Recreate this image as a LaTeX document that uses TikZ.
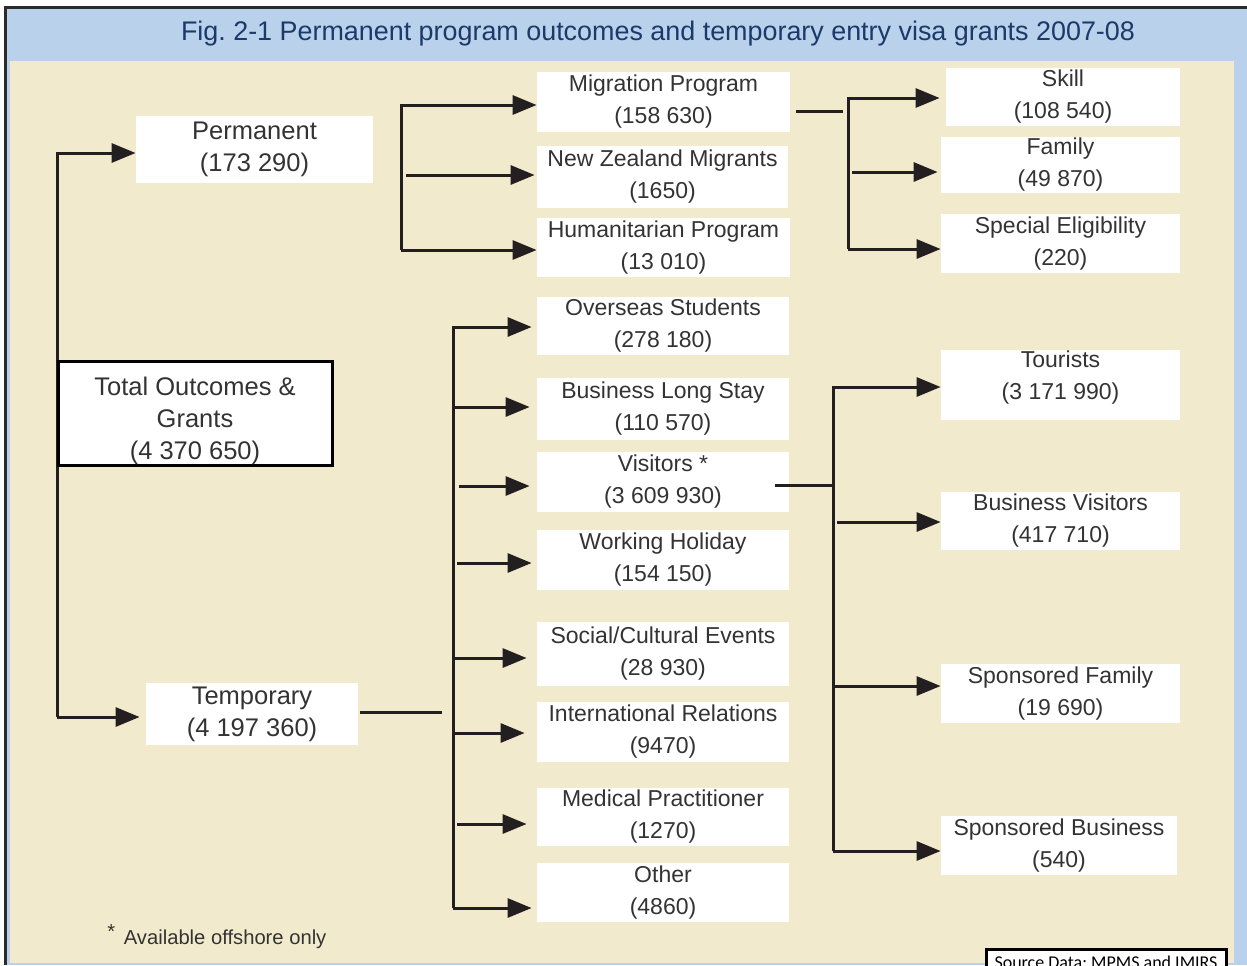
\documentclass[tikz,border=0pt]{standalone}
\usepackage{fontspec}
\setmainfont{Liberation Sans}
\newfontfamily\srcfont{Carlito}
\usetikzlibrary{arrows.meta}
\definecolor{bgblue}{HTML}{B9D1EA}
\definecolor{beige}{HTML}{F2EACD}
\definecolor{titleblue}{HTML}{1B3A6B}
\definecolor{framecol}{HTML}{2B2B2B}
\definecolor{txt}{HTML}{333333}
\definecolor{ink}{HTML}{231F20}
\frenchspacing
\begin{document}
\begin{tikzpicture}[x=0.5pt,y=-0.5pt,
  sz/.style 2 args={minimum width={#1*0.5pt}, minimum height={#2*0.5pt}},
  box/.style={fill=white, align=center, text=txt, inner sep=0pt, font=\fontsize{11.5}{16}\selectfont},
  bigbox/.style={box, font=\fontsize{12.75}{16}\selectfont},
  ln/.style={draw=ink, line width=1.5pt},
  arr/.style={ln, -{Triangle[length=12pt,width=9.5pt]}},
]
\useasboundingbox (0,0) rectangle (1247,965);
\clip (0,0) rectangle (1247,965);
% background
\fill[white] (0,0) rectangle (1247,965);
\fill[bgblue] (5,7) rectangle (1247,965);
\fill[beige] (10,61) rectangle (1234,963);
\draw[framecol, line width=1.5pt] (5.5,965) -- (5.5,7.5) -- (1247,7.5);

\node[text=titleblue, font=\fontsize{13.45}{16}\selectfont, inner sep=0pt] (title) at (658,34)
  {Fig. 2-1 Permanent program outcomes and temporary entry visa grants 2007-08};

% left column
\node[bigbox, sz={237}{67}] (perm) at (254.5,149.5) {Permanent\\(173 290)};
\node[bigbox, sz={212}{62}] (temp) at (252,714) {Temporary\\(4 197 360)};

% middle column
\node[box, sz={253}{60}] (mig) at (663.5,102) {Migration Program\\(158 630)};
\node[box, sz={251}{62}] (nz) at (662.5,177) {New Zealand Migrants\\(1650)};
\node[box, sz={253}{59}] (hum) at (663.5,247.5) {Humanitarian Program\\(13 010)};
\node[box, sz={252}{58}] (ovs) at (663,326) {Overseas Students\\(278 180)};
\node[box, sz={252}{62}] (bls) at (663,409) {Business Long Stay\\(110 570)};
\node[box, sz={252}{60}] (vis) at (663,482) {Visitors *\\(3 609 930)};
\node[box, sz={252}{60}] (wh) at (663,560) {Working Holiday\\(154 150)};
\node[box, sz={252}{64}] (soc) at (663,654) {Social/Cultural Events\\(28 930)};
\node[box, sz={252}{60}] (intl) at (663,732) {International Relations\\(9470)};
\node[box, sz={252}{58}] (med) at (663,817) {Medical Practitioner\\(1270)};
\node[box, sz={252}{59}] (oth) at (663,892.5) {Other\\(4860)};

% right column
\node[box, sz={234}{58}] (skill) at (1063,97) {Skill\\(108 540)};
\node[box, sz={239}{56}] (fam) at (1060.5,165) {Family\\(49 870)};
\node[box, sz={239}{59}] (spe) at (1060.5,243.5) {Special Eligibility\\(220)};
\node[box, sz={239}{70}] (tour) at (1060.5,385) {Tourists\\(3 171 990)\rule[-9.5pt]{0pt}{0pt}};
\node[box, sz={239}{58}] (bv) at (1060.5,521) {Business Visitors\\(417 710)};
\node[box, sz={239}{59}] (sf) at (1060.5,693.5) {Sponsored Family\\(19 690)};
\node[box, sz={236}{59}] (sb) at (1059,845.5) {Sponsored Business\\(540)};

% connectors: left bracket
\coordinate (lt) at (57,153);
\coordinate (lb) at (57,717);
\draw[arr] (lb) -- (lt) -- (lt -| perm.west);
\draw[arr, shorten >=3pt] (lb) -- (lb -| temp.west);

% total box on top of the bracket
\node[bigbox, draw=black, line width=1.5pt, sz={274}{104}] (total) at (195,413)
  {\rule{0pt}{17.2pt}Total Outcomes \&\\Grants\\(4 370 650)};

% permanent bracket
\coordinate (pt) at (401,105);
\coordinate (pb) at (401,250);
\coordinate (pm) at (406,175);
\draw[arr] (pb) -- (pt) -- (pt -| mig.west);
\draw[arr] (pb) -- (pb -| hum.west);
\draw[arr, shorten >=1pt] (pm) -- (pm -| nz.west);

% migration bracket
\coordinate (mj) at (843,111);
\coordinate (mt) at (848,98);
\coordinate (mb) at (848,249);
\coordinate (fm) at (852,172);
\draw[ln] (mig.east |- mj) ++(6,0) -- (mj);
\draw[arr, shorten >=3pt] (mb) -- (mt) -- (mt -| skill.west);
\draw[arr] (mb) -- (mb -| spe.west);
\draw[arr, shorten >=1.5pt] (fm) -- (fm -| fam.west);

% temporary bracket
\coordinate (tj) at (442,712);
\coordinate (tt) at (453,327);
\coordinate (tbm) at (453,908);
\draw[ln] (temp.east |- tj) ++(2,0) -- (tj);
\draw[arr, shorten >=2.5pt] (tbm) -- (tt) -- (tt -| ovs.west);
\draw[arr, shorten >=2.5pt] (tbm) -- (tbm -| oth.west);
\coordinate (t1) at (455,407);
\coordinate (t2) at (459,486);
\coordinate (t3) at (457,563);
\coordinate (t4) at (455,658);
\coordinate (t5) at (455,733);
\coordinate (t6) at (457,824);
\draw[arr, shorten >=3.5pt] (t1) -- (t1 -| bls.west);
\draw[arr, shorten >=3.5pt] (t2) -- (t2 -| vis.west);
\draw[arr, shorten >=2.5pt] (t3) -- (t3 -| wh.west);
\draw[arr, shorten >=5pt] (t4) -- (t4 -| soc.west);
\draw[arr, shorten >=6pt] (t5) -- (t5 -| intl.west);
\draw[arr, shorten >=5pt] (t6) -- (t6 -| med.west);

% visitors bracket
\coordinate (vj) at (832,485);
\coordinate (vt) at (833,387);
\coordinate (vb) at (833,851);
\coordinate (v1) at (837,522);
\coordinate (v2) at (833,686);
\draw[ln] (vis.east |- vj) ++(-14,0) -- (vj);
\draw[arr] (vb) -- (vt) -- (vt -| tour.west);
\draw[arr] (vb) -- (vb -| sb.west);
\draw[arr] (v1) -- (v1 -| bv.west);
\draw[arr] (v2) -- (v2 -| sf.west);

% footnote and source
\node[anchor=west, text=txt, font=\fontsize{10.1}{12}\selectfont, inner sep=0pt] (fn) at (107,937)
  {\raisebox{3pt}{*}\hspace{1.5pt} Available offshore only};
\node[draw=black, line width=1.5pt, fill=white, anchor=north, minimum width=120pt,
  inner ysep=3pt, font=\srcfont\fontsize{9}{11}\selectfont] (src) at (1106,948)
  {Source Data: MPMS and IMIRS};
\end{tikzpicture}
\end{document}
